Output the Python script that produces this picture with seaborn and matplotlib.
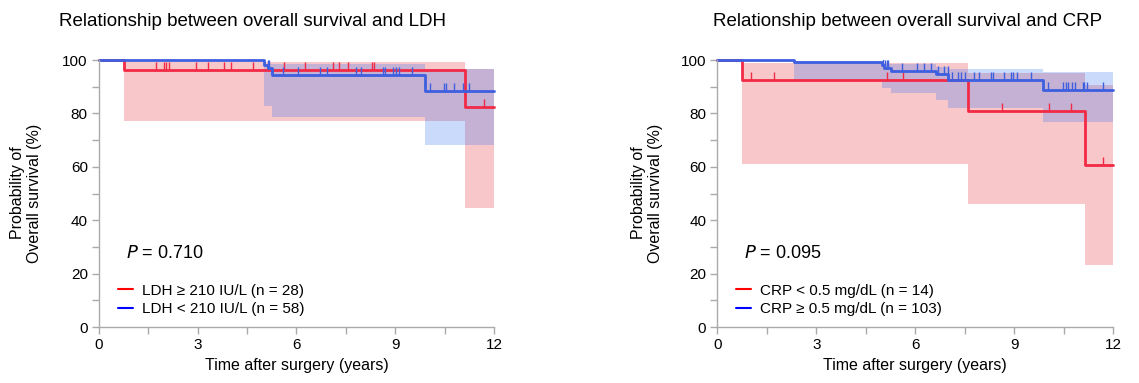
import numpy as np
import pandas as pd
import matplotlib
matplotlib.use('Agg')
import matplotlib.pyplot as plt
import seaborn as sns

# ---- LDH panel ----
ldh_hi_t = [0, 0.76, 11.12]
ldh_hi_s = [100, 96.2, 82.5]
ldh_hi_lo = [100, 77.3, 44.4]
ldh_hi_up = [100, 99.2, 96.5]
ldh_hi_cens = [1.72, 1.97, 2.05, 2.13, 2.94, 3.31, 3.80, 4.01, 4.69, 5.63, 6.26,
               7.10, 7.30, 7.58, 8.29, 8.37, 11.70]

ldh_lo_t = [0, 5.0, 5.12, 5.25, 9.89]
ldh_lo_s = [100, 98.3, 97.0, 94.4, 88.5]
ldh_lo_lo = [100, 82.8, 82.8, 78.8, 68.3]
ldh_lo_up = [100, 98.5, 98.5, 98.5, 96.5]
ldh_lo_cens = [5.13, 5.17, 5.58, 6.06, 6.72, 6.94, 7.80, 7.96, 8.62, 8.68, 8.92,
               9.03, 9.10, 9.50, 10.06, 10.49, 10.55, 10.80, 11.05, 11.23]

# ---- CRP panel ----
crp_lo_t = [0, 0.76, 7.61, 11.13]
crp_lo_s = [100, 92.5, 80.8, 60.6]
crp_lo_lo = [100, 61.0, 46.1, 23.1]
crp_lo_up = [100, 98.7, 95.3, 90.5]
crp_lo_cens = [1.01, 1.72, 5.15, 5.64, 8.62, 10.05, 10.71, 11.68]

crp_hi_t = [0, 2.33, 4.98, 5.05, 5.25, 6.62, 7.0, 9.88]
crp_hi_s = [100, 99.1, 98.0, 97.0, 95.8, 94.6, 92.6, 88.9]
crp_hi_lo = [100, 92.3, 89.6, 89.6, 87.7, 84.9, 82.1, 76.7]
crp_hi_up = [100, 99.6, 98.6, 98.6, 98.6, 97.5, 96.6, 95.4]
crp_hi_cens = [5.03, 5.08, 5.13, 5.18, 5.59, 6.04, 6.26, 6.47, 6.70, 6.88, 6.98,
               7.10, 7.30, 7.38, 7.51, 7.78, 7.94, 8.28, 8.36, 8.69, 8.90, 8.97,
               9.07, 9.50, 10.03, 10.48, 10.56, 10.62, 10.74, 10.84, 11.07,
               11.12, 11.21, 11.68]

titles = ['Relationship between overall survival and LDH',
          'Relationship between overall survival and CRP']
pvals = ['0.710', '0.095']
labels = [['LDH ≥ 210 IU/L (n = 28)', 'LDH < 210 IU/L (n = 58)'],
          ['CRP < 0.5 mg/dL (n = 14)', 'CRP ≥ 0.5 mg/dL (n = 103)']]

RED = '#f22a45'
BLUE = '#3d5fe0'
T_END = 12

sns.set_style('ticks')
plt.rcParams['font.family'] = ['Liberation Sans', 'DejaVu Sans']
plt.rcParams['text.color'] = 'black'
plt.rcParams['axes.labelcolor'] = 'black'
plt.rcParams['xtick.labelcolor'] = 'black'
plt.rcParams['ytick.labelcolor'] = 'black'


def draw_curve(ax, t, s, lo, up, cens, color, fill):
    tt = list(t) + [T_END]
    df = pd.DataFrame({'t': tt, 's': list(s) + [s[-1]]})
    ax.fill_between(tt, list(lo) + [lo[-1]], list(up) + [up[-1]],
                    step='post', color=fill, alpha=0.28, lw=0)
    sns.lineplot(data=df, x='t', y='s', ax=ax, color=color, lw=2,
                 drawstyle='steps-post', estimator=None, clip_on=False)
    idx = np.searchsorted(t, cens, side='right') - 1
    ax.plot(cens, np.array(s)[idx], ls='none', marker=2, ms=6, mew=1,
            color=color)


fig = plt.figure(figsize=(11.39, 3.83), dpi=100)
axes = [fig.add_axes([0.0869, 0.1462, 0.3468, 0.6971]),
        fig.add_axes([0.6298, 0.1462, 0.3477, 0.6971])]

panels = [
    [(ldh_hi_t, ldh_hi_s, ldh_hi_lo, ldh_hi_up, ldh_hi_cens),
     (ldh_lo_t, ldh_lo_s, ldh_lo_lo, ldh_lo_up, ldh_lo_cens)],
    [(crp_lo_t, crp_lo_s, crp_lo_lo, crp_lo_up, crp_lo_cens),
     (crp_hi_t, crp_hi_s, crp_hi_lo, crp_hi_up, crp_hi_cens)],
]

title_x = [59, 713]
ylab_x = [26, 647]

for i, ax in enumerate(axes):
    red, blue = panels[i]
    draw_curve(ax, *red, RED, '#e8383f')
    draw_curve(ax, *blue, BLUE, '#3f7bf0')

    ax.set_xlim(0, 12)
    ax.set_ylim(0, 100)
    ax.set_xticks([0, 3, 6, 9, 12])
    ax.set_xticks(np.arange(0, 12.1, 1.5), minor=True)
    ax.set_yticks([0, 20, 40, 60, 80, 100])
    ax.set_yticks(np.arange(0, 101, 10), minor=True)
    sns.despine(ax=ax)
    for sp in ['left', 'bottom']:
        ax.spines[sp].set_color('#aaaaaa')
        ax.spines[sp].set_linewidth(1)
    ax.tick_params(which='both', color='#aaaaaa', labelsize=11, length=5,
                   width=1, pad=3, labelcolor='black')
    ax.set_xlabel('Time after surgery (years)', fontsize=11.5, labelpad=4)
    ax.set_ylabel('')

    ax.text(0.82, 27.5, r'$\it{P}$ = ' + pvals[i], fontsize=13, va='center',
            ha='left')

    h = [plt.Line2D([], [], color='red', lw=1.5),
         plt.Line2D([], [], color='blue', lw=1.5)]
    ax.legend(h, labels[i], loc='lower left', bbox_to_anchor=(0.02, 0.0),
              frameon=False, fontsize=11, handlelength=1.0,
              handletextpad=0.6, labelspacing=0.3, borderpad=0.2)

    fig.text(title_x[i] / 1139, 1 - 21 / 383, titles[i], fontsize=13.5,
             ha='left', va='center')
    fig.text(ylab_x[i] / 1139, 1 - 193 / 383,
             'Probability of\nOverall survival (%)', fontsize=11.5,
             rotation=90, ha='center', va='center', multialignment='center',
             linespacing=1.2)

fig.savefig('out.png', dpi=100)
